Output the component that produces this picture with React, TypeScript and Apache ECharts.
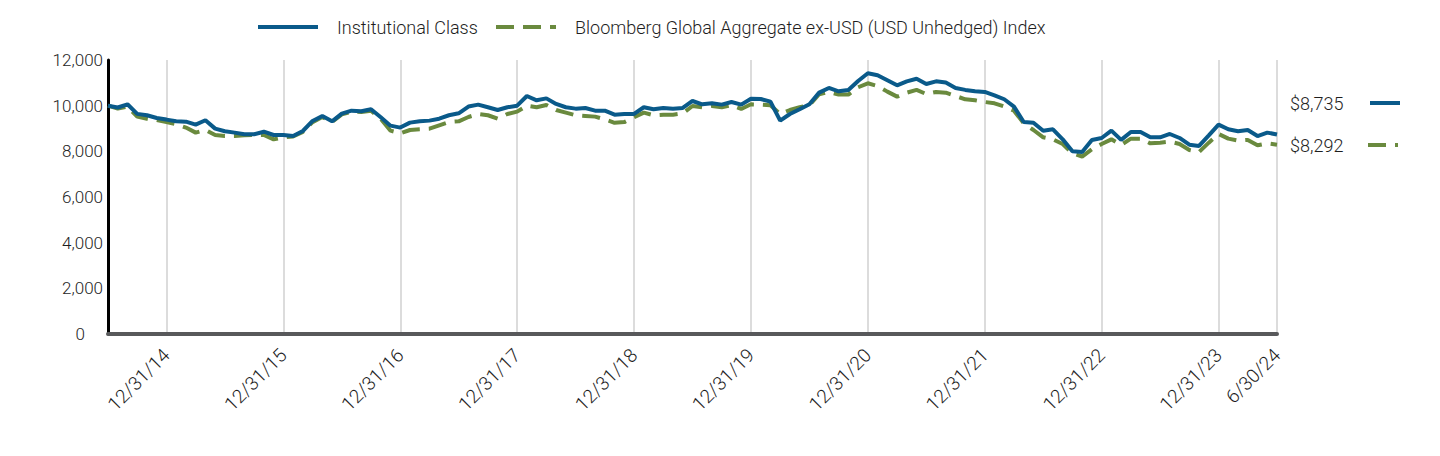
import React, { useEffect, useRef } from "react";
import * as echarts from "echarts";

const seriesNames = ["Institutional Class", "Bloomberg Global Aggregate ex-USD (USD Unhedged) Index"];

const tickLabels = ["12/31/14", "12/31/15", "12/31/16", "12/31/17", "12/31/18", "12/31/19", "12/31/20", "12/31/21", "12/31/22", "12/31/23", "6/30/24"];

const yTicks = [0, 2000, 4000, 6000, 8000, 10000, 12000];

const institutional = [
  10000, 9920, 10060, 9640, 9580, 9460, 9390, 9315, 9300, 9170, 9360, 8995,
  8880, 8820, 8745, 8750, 8860, 8715, 8715, 8670, 8890, 9330, 9550, 9315,
  9650, 9780, 9755, 9840, 9490, 9125, 9040, 9257, 9315, 9345, 9430, 9580,
  9665, 9960, 10045, 9930, 9810, 9930, 10000, 10425, 10235, 10320, 10075, 9930,
  9870, 9900, 9780, 9780, 9605, 9636, 9636, 9930, 9840, 9900, 9870, 9900,
  10205, 10060, 10105, 10045, 10160, 10045, 10305, 10290, 10175, 9345, 9636, 9840,
  10060, 10570, 10775, 10630, 10690, 11080, 11420, 11330, 11110, 10890, 11065, 11180,
  10950, 11065, 11010, 10775, 10690, 10630, 10600, 10455, 10280, 9960, 9285, 9255,
  8900, 8965, 8525, 8000, 7970, 8500, 8585, 8905, 8500, 8850, 8850, 8615,
  8615, 8760, 8585, 8290, 8235, 8700, 9170, 8965, 8880, 8935, 8670, 8820,
  8735,
];

const bloombergIndex = [
  10000, 9870, 9960, 9520, 9430, 9370, 9285, 9185, 9040, 8820, 8935, 8715,
  8672, 8672, 8700, 8715, 8715, 8525, 8615, 8650, 8850, 9280, 9500, 9290,
  9620, 9740, 9720, 9780, 9420, 8905, 8790, 8935, 8965, 8990, 9140, 9285,
  9315, 9505, 9636, 9580, 9430, 9636, 9737, 10000, 9930, 10030, 9810, 9695,
  9580, 9550, 9520, 9400, 9250, 9280, 9490, 9695, 9580, 9605, 9605, 9665,
  9985, 9930, 9985, 9930, 10020, 9855, 10060, 10045, 10020, 9636, 9810, 9930,
  10020, 10500, 10600, 10485, 10485, 10805, 10980, 10860, 10615, 10395, 10570, 10690,
  10510, 10600, 10570, 10425, 10280, 10235, 10160, 10105, 9960, 9780, 9230, 8935,
  8615, 8525, 8320, 7915, 7770, 8090, 8320, 8525, 8280, 8555, 8555, 8350,
  8380, 8425, 8320, 8060, 7970, 8380, 8760, 8555, 8470, 8500, 8265, 8350,
  8292,
];

// month-end category labels 6/30/14 .. 6/30/24
function buildMonths(): string[] {
  const out: string[] = [];
  for (let k = 0; k < institutional.length; k++) {
    const m = 5 + k; // June 2014 = month index 5
    const year = 2014 + Math.floor(m / 12);
    const month = m % 12;
    const day = new Date(year, month + 1, 0).getDate();
    out.push(`${month + 1}/${day}/${String(year % 100).padStart(2, "0")}`);
  }
  return out;
}
const months = buildMonths();

const BLUE = "#0a5a8a";
const GREEN = "#6a8a3e";
const FONT = "Roboto";
const TEXT = "#1e1e1e";

export default function App() {
  const ref = useRef<HTMLDivElement>(null);
  useEffect(() => {
    document.body.style.margin = "0";
    const chart = echarts.init(ref.current!, null, { renderer: "svg" });
    const isTick = (_i: number, v: string) => tickLabels.includes(v);
    const fmt = (v: number) => "$" + v.toLocaleString("en-US");
    const lastInst = institutional[institutional.length - 1];
    const lastIdx = bloombergIndex[bloombergIndex.length - 1];
    chart.setOption({
      animation: false,
      backgroundColor: "#ffffff",
      grid: { left: 108, right: 163, top: 60, bottom: 122, containLabel: false },
      xAxis: {
        type: "category",
        data: months,
        boundaryGap: false,
        axisLine: { show: true, lineStyle: { color: "#58595b", width: 4 } },
        axisTick: { show: false },
        axisLabel: {
          interval: isTick,
          rotate: 45,
          margin: 18,
          color: TEXT,
          fontFamily: FONT,
          fontWeight: 300,
          fontSize: 19,
        },
        splitLine: { show: true, interval: isTick, lineStyle: { color: "#dcdcdc", width: 2 } },
      },
      yAxis: {
        type: "value",
        min: 0,
        max: 12000,
        interval: 2000,
        axisLine: { show: true, lineStyle: { color: "#000000", width: 3 } },
        axisTick: { show: false },
        splitLine: { show: false },
        axisLabel: {
          margin: 5,
          color: TEXT,
          fontFamily: FONT,
          fontWeight: 300,
          fontSize: 17,
          formatter: (v: number) => (yTicks.includes(v) ? (v === 0 ? "{z|0}" : v.toLocaleString("en-US")) : ""),
          rich: {
            z: { padding: [0, 18, 0, 0], color: TEXT, fontFamily: FONT, fontWeight: 300, fontSize: 17 },
          },
        },
      },
      series: [
        {
          name: seriesNames[1],
          type: "line",
          data: bloombergIndex,
          showSymbol: false,
          z: 2,
          lineStyle: { color: GREEN, width: 4, type: [18, 9] },
          itemStyle: { color: GREEN },
        },
        {
          name: seriesNames[0],
          type: "line",
          data: institutional,
          showSymbol: false,
          z: 3,
          lineStyle: { color: BLUE, width: 4 },
          itemStyle: { color: BLUE },
        },
      ],
      graphic: [
        { type: "line", shape: { x1: 258, y1: 27, x2: 318, y2: 27 }, style: { stroke: BLUE, lineWidth: 4 } },
        { type: "text", x: 337, y: 27, style: { text: seriesNames[0], fill: TEXT, font: `300 18px ${FONT}`, textVerticalAlign: "middle" } },
        { type: "line", shape: { x1: 496, y1: 27, x2: 556, y2: 27 }, style: { stroke: GREEN, lineWidth: 4, lineDash: [18, 9] } },
        { type: "text", x: 575, y: 27, style: { text: seriesNames[1], fill: TEXT, font: `300 18px ${FONT}`, textVerticalAlign: "middle" } },
        { type: "text", x: 1290, y: 103, style: { text: fmt(lastInst), fill: TEXT, font: `300 18px ${FONT}`, textVerticalAlign: "middle" } },
        { type: "line", shape: { x1: 1370, y1: 103, x2: 1400, y2: 103 }, style: { stroke: BLUE, lineWidth: 4 } },
        { type: "text", x: 1290, y: 145, style: { text: fmt(lastIdx), fill: TEXT, font: `300 18px ${FONT}`, textVerticalAlign: "middle" } },
        { type: "line", shape: { x1: 1368, y1: 145, x2: 1398, y2: 145 }, style: { stroke: GREEN, lineWidth: 4, lineDash: [18, 9] } },
      ],
    });
    return () => chart.dispose();
  }, []);
  return <div ref={ref} style={{ position: "fixed", left: 0, top: 0, width: 1440, height: 456 }} />;
}
